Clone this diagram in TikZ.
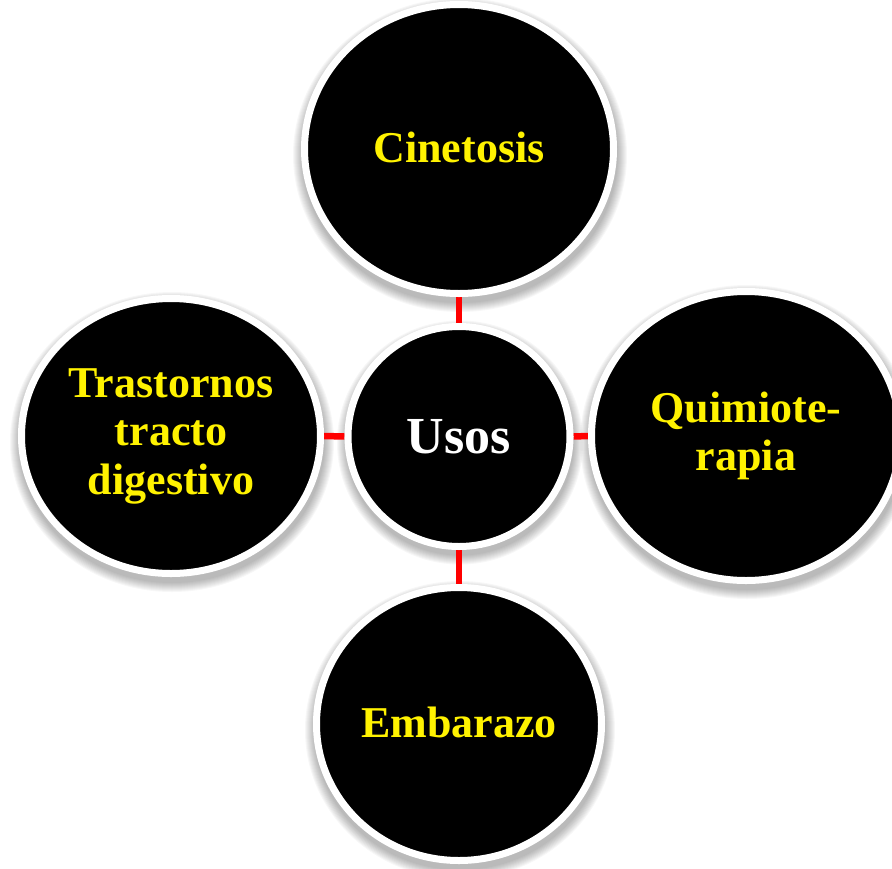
\documentclass[tikz,border=0pt]{standalone}
\usepackage{fontspec}
\setmainfont{Liberation Serif}
\usetikzlibrary{shapes.geometric}
\pgfdeclarelayer{shadowlayer}
\pgfdeclarelayer{edgelayer}
\pgfsetlayers{shadowlayer,edgelayer,main}
\newcommand\mysoftshadow[3]{%
  \foreach \k in {0,...,9}{%
    \fill[black, opacity=0.03] ([shift={(1,6)}]#1.center) ellipse [x radius={#2+\k}, y radius={#3+\k}];
  }%
}
\begin{document}
\begin{tikzpicture}[x=1pt,y=-1pt,
  bubble/.style={ellipse, fill=black, draw=white, line width=7pt, inner sep=0pt,
    align=center, text=yellow, font=\fontsize{44}{48.5}\selectfont\bfseries},
  link/.style={draw=red, line width=6.5pt}]
\useasboundingbox (0,0) rectangle (892,868);
\node[bubble, minimum width=309pt, minimum height=289pt] (cin) at (459,149) {\raisebox{3pt}{Cinetosis}};
\node[bubble, minimum width=222pt, minimum height=220pt, text=white,
  font=\fontsize{52}{56}\selectfont\bfseries] (usos) at (459,436.5) {Usos};
\node[bubble, minimum width=299pt, minimum height=275pt] (tras) at (171,436) {Trastornos\\tracto\\digestivo};
\node[bubble, minimum width=309pt, minimum height=289pt] (quim) at (746,436) {Quimiote-\\rapia};
\node[bubble, minimum width=285pt, minimum height=273pt] (emb) at (459,724) {\raisebox{3pt}{Embarazo}};
\begin{pgfonlayer}{shadowlayer}
  \mysoftshadow{cin}{158}{148}
  \mysoftshadow{usos}{114}{113}
  \mysoftshadow{tras}{153}{141}
  \mysoftshadow{quim}{158}{148}
  \mysoftshadow{emb}{146}{140}
\end{pgfonlayer}
\begin{pgfonlayer}{edgelayer}
  \draw[link] (cin.south) -- (usos.north);
  \draw[link] (usos.south) -- (emb.north);
  \draw[link] (tras.east) -- (usos.west);
  \draw[link] (usos.east) -- (quim.west);
\end{pgfonlayer}
\end{tikzpicture}
\end{document}
